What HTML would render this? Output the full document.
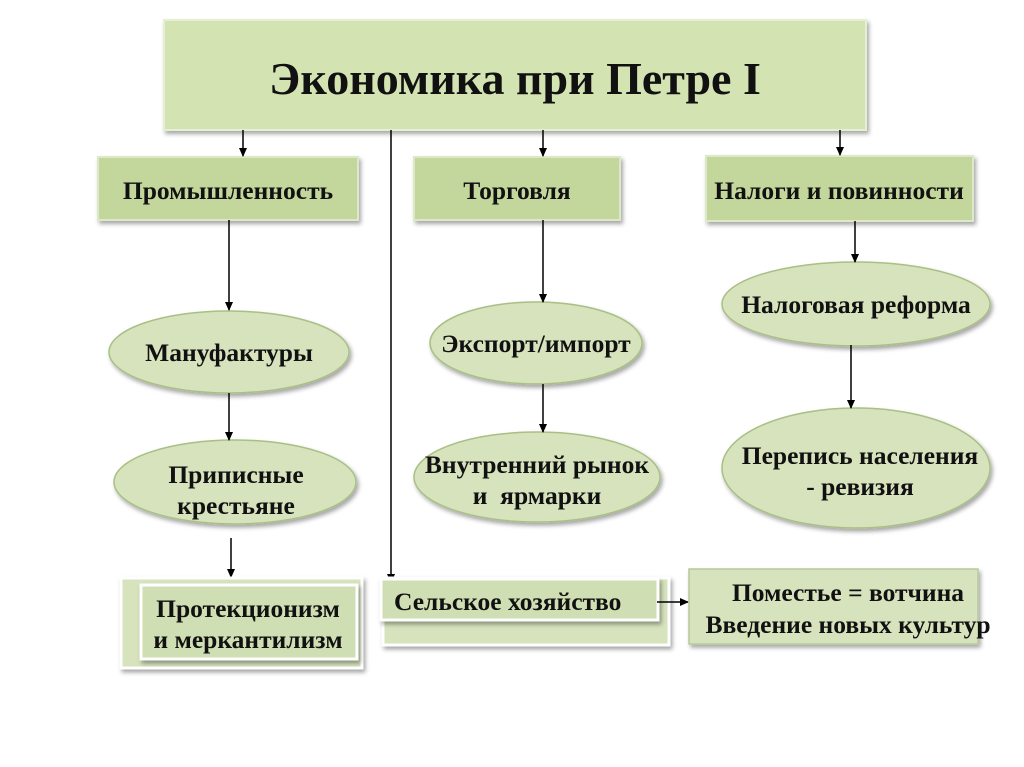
<!DOCTYPE html>
<html><head><meta charset="utf-8"><style>
html,body{margin:0;padding:0;background:#fff;}
svg{display:block;}
text{font-family:"Liberation Serif","DejaVu Serif",serif;font-weight:bold;fill:#111;}
</style></head><body>
<svg width="1024" height="767" viewBox="0 0 1024 767" xmlns="http://www.w3.org/2000/svg">
<defs>
<filter id="sh" x="-10%" y="-10%" width="130%" height="140%">
<feDropShadow dx="2" dy="3" stdDeviation="2" flood-color="#000" flood-opacity="0.35"/>
</filter>
<marker id="ar" markerWidth="10" markerHeight="10" refX="8" refY="5" orient="auto" markerUnits="userSpaceOnUse">
<path d="M0,1 L9,5 L0,9 z" fill="#000"/>
</marker>
</defs>

<rect x="164" y="20" width="702" height="110" fill="#d4e3b2" stroke="#e6efd3" stroke-width="2" filter="url(#sh)"/>
<text x="515" y="94" font-size="46" text-anchor="middle">Экономика при Петре I</text>

<rect x="98" y="157" width="260" height="63" fill="#c3d69b" stroke="#dde8c8" stroke-width="2" filter="url(#sh)"/>
<text x="228" y="199" font-size="25.5" text-anchor="middle">Промышленность</text>
<rect x="414" y="157" width="206" height="63" fill="#c3d69b" stroke="#dde8c8" stroke-width="2" filter="url(#sh)"/>
<text x="517" y="199" font-size="25.5" text-anchor="middle">Торговля</text>
<rect x="706" y="156" width="267" height="65" fill="#c3d69b" stroke="#dde8c8" stroke-width="2" filter="url(#sh)"/>
<text x="839" y="199" font-size="25.5" text-anchor="middle">Налоги и повинности</text>

<line x1="243" y1="130" x2="243" y2="156" stroke="#000" stroke-width="1.5" marker-end="url(#ar)"/>
<line x1="543" y1="130" x2="543" y2="156" stroke="#000" stroke-width="1.5" marker-end="url(#ar)"/>
<line x1="840" y1="130" x2="840" y2="155" stroke="#000" stroke-width="1.5" marker-end="url(#ar)"/>
<line x1="391" y1="130" x2="391" y2="582" stroke="#000" stroke-width="1.5" marker-end="url(#ar)"/>

<g fill="#d6e3bd" stroke="#a9bf84" stroke-width="1.5" filter="url(#sh)">
<ellipse cx="229" cy="352" rx="120" ry="41"/>
<ellipse cx="235" cy="482" rx="121" ry="42"/>
<ellipse cx="536" cy="343" rx="106" ry="41"/>
<ellipse cx="537" cy="477" rx="123" ry="45"/>
<ellipse cx="856" cy="304" rx="134" ry="42"/>
<ellipse cx="856" cy="468" rx="134" ry="60"/>
</g>
<text x="229" y="361" font-size="25.5" text-anchor="middle">Мануфактуры</text>
<text x="236" y="483" font-size="25.5" text-anchor="middle">Приписные</text>
<text x="236" y="514" font-size="25.5" text-anchor="middle">крестьяне</text>
<text x="536" y="352" font-size="25.5" text-anchor="middle">Экспорт/импорт</text>
<text x="537" y="473" font-size="25.5" text-anchor="middle">Внутренний рынок</text>
<text x="537" y="504" font-size="25.5" text-anchor="middle" xml:space="preserve">и  ярмарки</text>
<text x="856" y="313" font-size="25.5" text-anchor="middle">Налоговая реформа</text>
<text x="860" y="464" font-size="25.5" text-anchor="middle">Перепись населения</text>
<text x="860" y="495" font-size="25.5" text-anchor="middle">- ревизия</text>

<line x1="229" y1="220" x2="229" y2="310" stroke="#000" stroke-width="1.5" marker-end="url(#ar)"/>
<line x1="229" y1="393" x2="229" y2="440" stroke="#000" stroke-width="1.5" marker-end="url(#ar)"/>
<line x1="231" y1="538" x2="231" y2="577" stroke="#000" stroke-width="1.5" marker-end="url(#ar)"/>
<line x1="543" y1="220" x2="543" y2="302" stroke="#000" stroke-width="1.5" marker-end="url(#ar)"/>
<line x1="543" y1="384" x2="543" y2="432" stroke="#000" stroke-width="1.5" marker-end="url(#ar)"/>
<line x1="855" y1="221" x2="855" y2="262" stroke="#000" stroke-width="1.5" marker-end="url(#ar)"/>
<line x1="851" y1="345" x2="851" y2="408" stroke="#000" stroke-width="1.5" marker-end="url(#ar)"/>

<rect x="121" y="578" width="241" height="90" fill="#d6e3bd" stroke="#fff" stroke-width="3" filter="url(#sh)"/>
<rect x="141" y="585" width="216" height="74" fill="#d0dfb3" stroke="#fff" stroke-width="3" filter="url(#sh)"/>
<text x="248" y="617" font-size="25.5" text-anchor="middle">Протекционизм</text>
<text x="248" y="648" font-size="25.5" text-anchor="middle">и меркантилизм</text>

<rect x="383" y="578" width="286" height="67" fill="#d6e3bd" stroke="#fff" stroke-width="3" filter="url(#sh)"/>
<rect x="381" y="579" width="277" height="41" fill="#d0dfb3" stroke="#fff" stroke-width="3" filter="url(#sh)"/>
<text x="394" y="610" font-size="25.5">Сельское хозяйство</text>
<line x1="657" y1="602" x2="688" y2="602" stroke="#000" stroke-width="1.5" marker-end="url(#ar)"/>

<rect x="689" y="569" width="289" height="75" fill="#d6e3bd" stroke="#b6c99a" stroke-width="1.5" filter="url(#sh)"/>
<text x="848" y="601" font-size="25.5" text-anchor="middle">Поместье = вотчина</text>
<text x="848" y="633" font-size="25.5" text-anchor="middle">Введение новых культур</text>
</svg>
</body></html>
